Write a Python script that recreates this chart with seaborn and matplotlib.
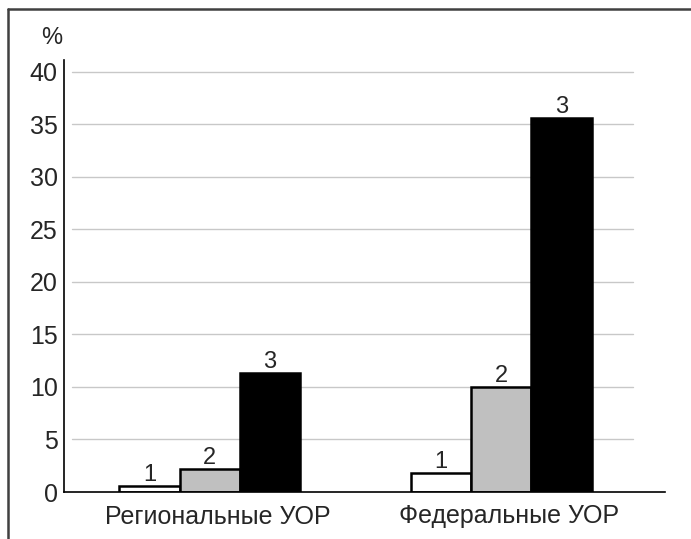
import pandas as pd
import matplotlib
matplotlib.use("Agg")
import matplotlib.pyplot as plt
import matplotlib.transforms as mtransforms
import seaborn as sns
from matplotlib.lines import Line2D

# données
groupes = ["Региональные УОР", "Федеральные УОР"]
series = ["1", "2", "3"]
valeurs_1 = [0.6, 1.8]
valeurs_2 = [2.2, 10.0]
valeurs_3 = [11.3, 35.6]
couleurs = ["#ffffff", "#c0c0c0", "#000000"]

df = pd.DataFrame({
    "groupe": groupes * 3,
    "serie": [s for s in series for _ in groupes],
    "valeur": valeurs_1 + valeurs_2 + valeurs_3,
})

sns.set_style("white")
plt.rcParams["font.family"] = ["Liberation Sans", "DejaVu Sans"]

fig = plt.figure(figsize=(6.91, 5.39), dpi=100)
ax = fig.add_axes([64 / 691, 1 - 492 / 539, (665 - 64) / 691, (492 - 60) / 539])

sns.barplot(data=df, x="groupe", y="valeur", hue="serie", palette=couleurs,
            width=0.62, edgecolor="black", linewidth=1.8, ax=ax, legend=False,
            saturation=1)

for cont, lab in zip(ax.containers, series):
    ax.bar_label(cont, labels=[lab] * len(cont), padding=0, fontsize=17)

ax.set_ylim(0, 41.1)
ax.set_xlim(-0.5, 1.562)
ax.set_yticks(range(0, 41, 5))
for y in range(5, 41, 5):
    ax.axhline(y, xmin=0.013, xmax=0.947, color="#c8c8c8", lw=1, zorder=0)

ax.set_xlabel("")
ax.set_ylabel("")
ax.tick_params(axis="y", direction="inout", length=7, width=1, labelsize=18, pad=1)
ax.tick_params(axis="x", length=0, labelsize=18, pad=9)
decal = mtransforms.ScaledTranslation(8 / 100, 0, fig.dpi_scale_trans)
for lbl in ax.get_xticklabels():
    lbl.set_transform(lbl.get_transform() + decal)
for s in ["top", "right"]:
    ax.spines[s].set_visible(False)
for s in ["left", "bottom"]:
    ax.spines[s].set_color("black")
    ax.spines[s].set_linewidth(1.2)

fig.text(52 / 691, 1 - 38 / 539, "%", fontsize=17, ha="center", va="center")

# cadre
fig.add_artist(Line2D([8 / 691, 1], [1 - 9 / 539, 1 - 9 / 539], color="#404040", lw=1.8))
fig.add_artist(Line2D([8 / 691, 8 / 691], [0, 1 - 9 / 539], color="#404040", lw=1.8))

fig.savefig("out.png", dpi=100)
